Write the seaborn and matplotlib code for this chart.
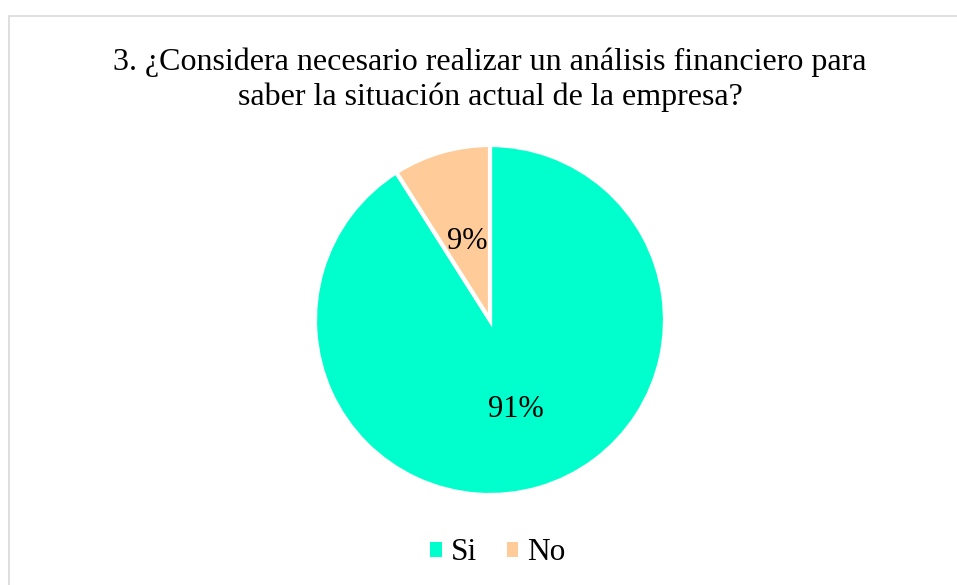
"""Pie chart — necesidad de análisis financiero."""

import matplotlib.pyplot as plt
from matplotlib.patches import Patch, Rectangle
import seaborn as sns

labels = ["Si", "No"]
values = [91, 9]
colors = ["#00FFCC", "#FFCC99"]
title_lines = ["3. ¿Considera necesario realizar un análisis financiero para",
               "saber la situación actual de la empresa?"]

sns.set_theme(style="white")
plt.rcParams["font.family"] = ["Liberation Serif", "DejaVu Serif"]
plt.rcParams["text.color"] = "black"

W, H = 957, 585
fig = plt.figure(figsize=(W / 100, H / 100), dpi=100)

# light frame around the chart area (runs off the right/bottom edge)
fig.patches.append(Rectangle((9 / W, -0.02), 1.0, 1 - 16 / H + 0.02,
                             transform=fig.transFigure, fill=False,
                             edgecolor="#d9d9d9", linewidth=1.2))

cx, cy, r = 490, 320, 175
ax = fig.add_axes([(cx - r) / W, (H - cy - r) / H, 2 * r / W, 2 * r / H])
wedges, _, autotexts = ax.pie(
    values, colors=colors, startangle=90, counterclock=False,
    autopct=lambda p: f"{p:.0f}%", pctdistance=0.5,
    wedgeprops={"edgecolor": "white", "linewidth": 3},
    textprops={"fontsize": 22, "color": "black"},
)
# nudge the labels radially to where they sit in the original
for t, d in zip(autotexts, [0.53, 0.47]):
    x, y = t.get_position()
    t.set_position((x * d / 0.5, y * d / 0.5))
ax.set_xlim(-1, 1)
ax.set_ylim(-1, 1)
ax.set_aspect("equal")
ax.axis("off")

for line, base in zip(title_lines, [70, 105]):
    fig.text(cx / W, 1 - base / H, line, ha="center", va="baseline",
             fontsize=23, color="black")

handles = [Patch(facecolor=c, edgecolor="none") for c in colors]
fig.legend(handles, labels, loc="center", bbox_to_anchor=(498 / W, 1 - 553 / H),
           ncol=2, frameon=False, fontsize=22.5, handlelength=0.36,
           handleheight=0.36, handletextpad=0.3, columnspacing=0.95,
           borderpad=0.2)

fig.savefig("out.png", dpi=100)
plt.close(fig)
